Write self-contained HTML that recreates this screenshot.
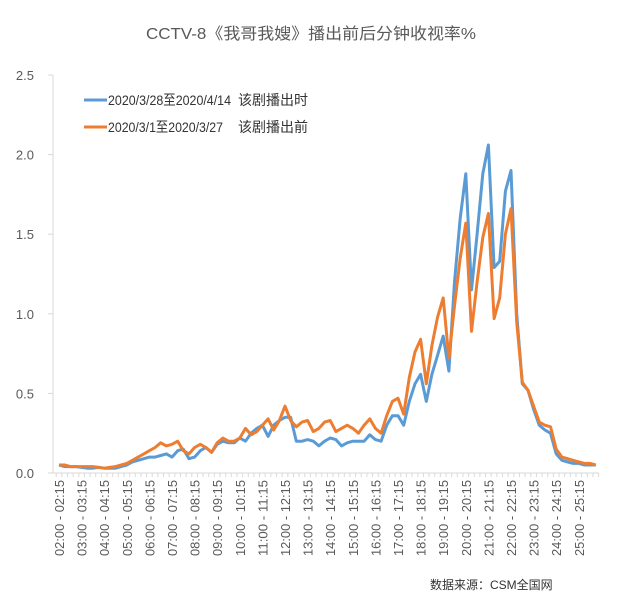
<!DOCTYPE html>
<html><head><meta charset="utf-8"><style>
body{margin:0;background:#fff;}
svg text{font-family:"Liberation Sans","Noto Sans CJK SC",sans-serif;}
</style></head><body>
<svg id="chart" width="637" height="603" xmlns="http://www.w3.org/2000/svg">
<text x="311" y="39" text-anchor="middle" font-size="16" fill="#595959" textLength="330" lengthAdjust="spacingAndGlyphs">CCTV-8《我哥我嫂》播出前后分钟收视率%</text>
<g id="yaxis"></g>
<g id="xaxis"></g>
<g id="series"></g>
<g>
<line x1="84" y1="100" x2="107" y2="100" stroke="#5b9bd5" stroke-width="3"/>
<text x="108" y="105" font-size="14" fill="#333" textLength="123" lengthAdjust="spacingAndGlyphs">2020/3/28至2020/4/14</text>
<text x="238" y="105" font-size="14" fill="#333">该剧播出时</text>
<line x1="84" y1="127" x2="107" y2="127" stroke="#ed7d31" stroke-width="3"/>
<text x="108" y="132" font-size="14" fill="#333" textLength="115" lengthAdjust="spacingAndGlyphs">2020/3/1至2020/3/27</text>
<text x="238" y="132" font-size="14" fill="#333">该剧播出前</text>
</g>
<text x="430" y="589" font-size="12" fill="#333">数据来源：CSM全国网</text>
</svg>
<script>
const hours = [2,3,4,5,6,7,8,9,10,11,12,13,14,15,16,17,18,19,20,21,22,23,24,25];
const yTicks = [0,0.5,1.0,1.5,2.0,2.5];
const yTickLabels = ["0.0","0.5","1.0","1.5","2.0","2.5"];
const seriesDuring = [.05,.04,.04,.04, .035,.03,.03,.035, .03,.03,.03,.04, .05,.07,.08,.09, .10,.10,.11,.12, .10,.14,.15,.09, .10,.14,.16,.13, .18,.20,.19,.19, .22,.20,.25,.28, .30,.23,.30,.33, .35,.35,.20,.20, .21,.20,.17,.20, .22,.21,.17,.19, .20,.20,.20,.24, .21,.20,.30,.36, .36,.30,.45,.56, .62,.45,.62,.74, .86,.64,1.20,1.60, 1.88,1.15,1.50,1.88, 2.06,1.29,1.33,1.77, 1.90,1.00,.56,.52, .40,.30,.27,.25, .12,.08,.07,.06, .06,.05,.05,.05];
const seriesBefore = [.05,.05,.04,.04, .04,.04,.04,.035, .03,.035,.04,.05, .06,.08,.10,.12, .14,.16,.19,.17, .18,.20,.14,.12, .16,.18,.16,.13, .19,.22,.20,.20, .22,.28,.24,.26, .30,.34,.27,.33, .42,.33,.29,.32, .33,.26,.28,.32, .33,.26,.28,.30, .28,.25,.30,.34, .28,.25,.36,.45, .47,.37,.60,.76, .84,.56,.80,.98, 1.10,.72,1.05,1.35, 1.57,.89,1.20,1.48, 1.63,.97,1.10,1.50, 1.66,.95,.57,.52, .42,.32,.30,.29, .15,.10,.09,.08, .07,.06,.06,.05];
const NS="http://www.w3.org/2000/svg";
const x0=59, step=5.65, y0=473, yTop=75, yMax=2.5;
const xs=i=>x0+i*step;
const ys=v=>y0-(v/yMax)*(y0-yTop);
function mk(tag,attrs,parent){const e=document.createElementNS(NS,tag);for(const k in attrs)e.setAttribute(k,attrs[k]);parent.appendChild(e);return e;}
const ya=document.getElementById('yaxis'), xa=document.getElementById('xaxis'), sl=document.getElementById('series');
let l=mk('line',{x1:53,y1:yTop,x2:53,y2:y0,stroke:'#d9d9d9'},ya);


yTicks.forEach((v,k)=>{
 const t=mk('line',{x1:48,y1:ys(v),x2:53,y2:ys(v),stroke:'#d9d9d9'},ya);
 
 
 const tx=mk('text',{x:34,y:ys(v)+5,'text-anchor':'end','font-size':13,fill:'#595959'},ya);
 
 
 tx.textContent=yTickLabels[k];
});
const n=seriesDuring.length;
l=mk('line',{x1:53,y1:y0,x2:xs(n-1)+3,y2:y0,stroke:'#d9d9d9'},xa);


for(let i=0;i<=n;i++){
 const xx=x0-step/2+i*step;
 const t=mk('line',{x1:xx,y1:y0,x2:xx,y2:y0+4,stroke:'#d9d9d9'},xa);
 
 
}
const p2=h=>String(h).padStart(2,'0');
hours.forEach((h,k)=>{
 const xx=xs(k*4)+5;
 const tx=mk('text',{x:0,y:0,'text-anchor':'end','font-size':13,fill:'#595959',textLength:76,lengthAdjust:'spacingAndGlyphs',transform:`translate(${xx},480) rotate(-90)`},xa);
 
 
 tx.textContent=`${p2(h)}:00 - ${p2(h)}:15`;
});
function line(arr,color,name){
 const d=arr.map((v,i)=>(i?'L':'M')+xs(i).toFixed(1)+','+ys(v).toFixed(1)).join('');
 const p=mk('path',{d:d,fill:'none',stroke:color,'stroke-width':3,'stroke-linejoin':'round'},sl);
 
 
}
line(seriesDuring,'#5b9bd5','line-during');
line(seriesBefore,'#ed7d31','line-before');
</script>
</body></html>
